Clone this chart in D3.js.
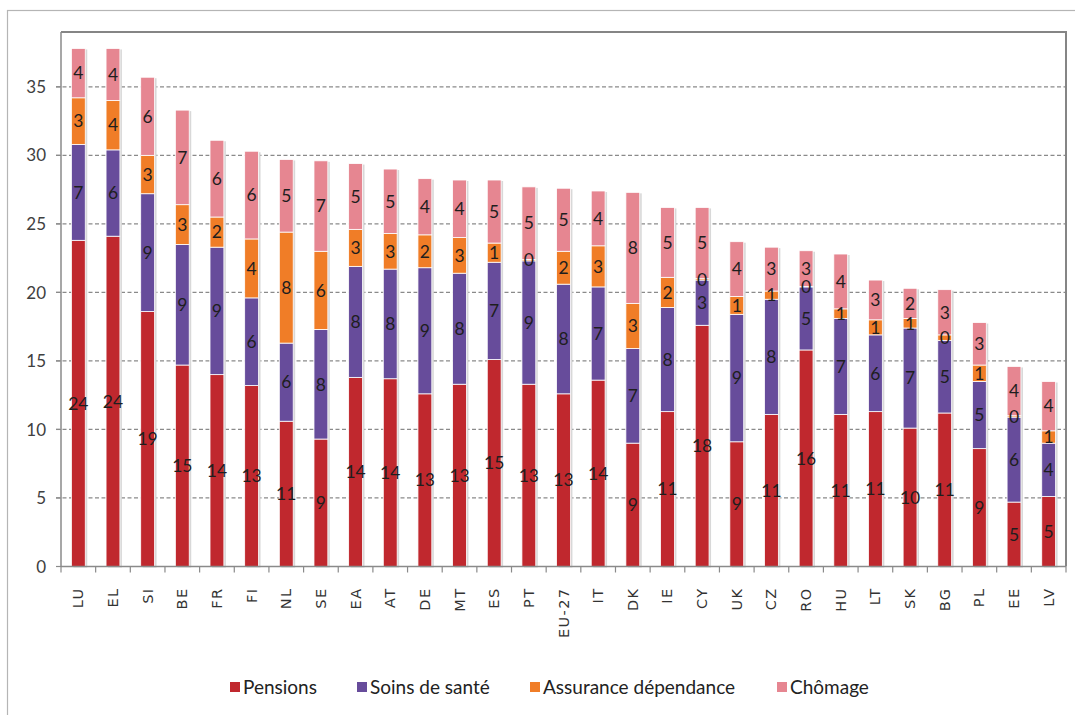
<!DOCTYPE html>
<html>
<head>
<meta charset="utf-8">
<script src="https://cdn.jsdelivr.net/npm/d3@7"></script>
<style>
  html, body { margin: 0; padding: 0; background: #fff; }
  svg { display: block; }
</style>
</head>
<body>
<svg id="chart" width="1075" height="715"></svg>
<script>
const categories = ["LU","EL","SI","BE","FR","FI","NL","SE","EA","AT","DE","MT","ES","PT","EU-27","IT","DK","IE","CY","UK","CZ","RO","HU","LT","SK","BG","PL","EE","LV"];
const seriesNames = ["Pensions", "Soins de santé", "Assurance dépendance", "Chômage"];
const pensions = [23.8, 24.1, 18.6, 14.7, 14.0, 13.2, 10.6, 9.3, 13.8, 13.7, 12.6, 13.3, 15.1, 13.3, 12.6, 13.6, 9.0, 11.3, 17.6, 9.1, 11.1, 15.8, 11.1, 11.3, 10.1, 11.2, 8.6, 4.7, 5.1];
const health = [7.0, 6.3, 8.6, 8.8, 9.3, 6.4, 5.7, 8.0, 8.1, 8.0, 9.2, 8.1, 7.1, 9.0, 8.0, 6.8, 6.9, 7.6, 3.3, 9.3, 8.4, 4.6, 7.0, 5.6, 7.3, 5.3, 4.9, 6.2, 3.9];
const longTermCare = [3.4, 3.6, 2.8, 2.9, 2.2, 4.3, 8.1, 5.7, 2.7, 2.6, 2.4, 2.6, 1.4, 0.1, 2.4, 3.0, 3.3, 2.2, 0.1, 1.3, 0.6, 0.04, 0.7, 1.1, 0.7, 0.4, 1.2, 0.1, 0.9];
const unemployment = [3.6, 3.8, 5.7, 6.9, 5.6, 6.4, 5.3, 6.6, 4.8, 4.7, 4.1, 4.2, 4.6, 5.3, 4.6, 4.0, 8.1, 5.1, 5.2, 4.0, 3.2, 2.6, 4.0, 2.9, 2.2, 3.3, 3.1, 3.6, 3.6];
const yTicks = [0, 5, 10, 15, 20, 25, 30, 35];

const colors = ["#C0282E", "#674C9B", "#F07D27", "#E68691"];
const keys = ["p", "h", "l", "u"];
const table = categories.map((c, i) => ({cat: c, p: pensions[i], h: health[i], l: longTermCare[i], u: unemployment[i]}));

const svg = d3.select("#chart");
const plotL = 61, plotR = 1066, plotT = 32, plotB = 566.5;

// outer frame
svg.append("rect").attr("x", 7.5).attr("y", 10.5).attr("width", 1100).attr("height", 800)
  .attr("fill", "none").attr("stroke", "#b5b5b5").attr("stroke-width", 1.2);

const x = d3.scaleBand().domain(categories).range([plotL, plotR]).padding(0);
const y = d3.scaleLinear().domain([0, 39]).range([plotB, plotT]);
const barW = x.bandwidth() * 0.4;

// gridlines
svg.append("g").selectAll("line").data(yTicks.filter(t => t > 0)).join("line")
  .attr("x1", plotL - 5).attr("x2", plotR)
  .attr("y1", d => y(d)).attr("y2", d => y(d))
  .attr("stroke", "#8a8a8a").attr("stroke-width", 1.2).attr("stroke-dasharray", "4,2.5");

// y tick labels
svg.append("g").selectAll("text").data(yTicks).join("text")
  .attr("x", 46).attr("y", d => y(d)).attr("dy", "0.36em")
  .attr("text-anchor", "end").attr("font-family", "Lato, sans-serif")
  .attr("font-size", 17).attr("fill", "#404040").text(d => d);

// plot frame (top and right)
svg.append("path").attr("d", `M${plotL},${plotT}H${plotR}V${plotB}`)
  .attr("fill", "none").attr("stroke", "#858585").attr("stroke-width", 2);
// y axis line
svg.append("line").attr("x1", plotL).attr("x2", plotL).attr("y1", plotT).attr("y2", plotB)
  .attr("stroke", "#8a8a8a").attr("stroke-width", 1.5);

const stack = d3.stack().keys(keys)(table);

// shadows
svg.append("g").selectAll("rect").data(table).join("rect")
  .attr("x", d => x(d.cat) + (x.bandwidth() - barW) / 2 + 2)
  .attr("y", d => y(d.p + d.h + d.l + d.u) + 1)
  .attr("width", barW).attr("height", d => y(0) - y(d.p + d.h + d.l + d.u))
  .attr("fill", "#d8d8d8");

// bars
const layers = svg.append("g").selectAll("g").data(stack).join("g")
  .attr("fill", (d, i) => colors[i]);
layers.selectAll("rect").data(d => d).join("rect")
  .attr("x", d => x(d.data.cat) + (x.bandwidth() - barW) / 2)
  .attr("y", d => y(d[1]))
  .attr("width", barW)
  .attr("height", d => y(d[0]) - y(d[1]))
  .attr("stroke", "#fff").attr("stroke-width", 0.8);

// x axis line and ticks
svg.append("line").attr("x1", plotL).attr("x2", plotR).attr("y1", plotB).attr("y2", plotB)
  .attr("stroke", "#8a8a8a").attr("stroke-width", 1.5);
const boundaries = categories.map(c => x(c)).concat([plotR]);
svg.append("g").selectAll("line").data(boundaries).join("line")
  .attr("x1", d => d).attr("x2", d => d).attr("y1", plotB).attr("y2", plotB + 6)
  .attr("stroke", "#8a8a8a").attr("stroke-width", 1.2);
svg.append("g").selectAll("line").data(yTicks).join("line")
  .attr("x1", plotL - 5).attr("x2", plotL).attr("y1", d => y(d)).attr("y2", d => y(d))
  .attr("stroke", "#8a8a8a").attr("stroke-width", 1.2);

// data labels (drawn above all bars)
const fmt = d3.format(".0f");
const labelData = stack.flatMap(layer => layer.map(d => ({cat: d.data.cat, y0: d[0], y1: d[1]})));
svg.append("g").selectAll("text").data(labelData).join("text")
  .attr("x", d => x(d.cat) + x.bandwidth() / 2)
  .attr("y", d => (y(d.y0) + y(d.y1)) / 2)
  .attr("dy", "0.36em").attr("text-anchor", "middle")
  .attr("font-family", "Lato, sans-serif").attr("font-size", 17.5)
  .attr("fill", "#1e1e1e")
  .text(d => fmt(d.y1 - d.y0));

// category labels
svg.append("g").selectAll("text").data(categories).join("text")
  .attr("transform", d => `translate(${x(d) + x.bandwidth() / 2 + 5},${plotB + 21}) rotate(-90)`)
  .attr("text-anchor", "end").attr("font-family", "DejaVu Sans, sans-serif")
  .attr("font-size", 14.5).attr("letter-spacing", 1.4).attr("fill", "#333")
  .text(d => d);

// legend
const legendX = [230, 357, 530, 777];
const lg = svg.append("g").selectAll("g").data(seriesNames).join("g")
  .attr("transform", (d, i) => `translate(${legendX[i]},687)`);
lg.append("rect").attr("x", 0).attr("y", -5).attr("width", 10).attr("height", 10)
  .attr("fill", (d, i) => colors[i]);
lg.append("text").attr("x", 13).attr("y", 0).attr("dy", "0.35em")
  .attr("font-family", "Lato, sans-serif").attr("font-size", 19).attr("fill", "#222")
  .text(d => d);
</script>
</body>
</html>
